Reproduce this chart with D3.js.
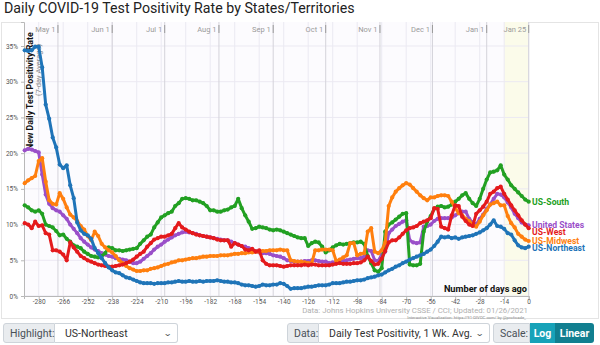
<!DOCTYPE html>
<html>
<head>
<meta charset="utf-8">
<script src="https://cdn.jsdelivr.net/npm/d3@7"></script>
<style>
  body { margin: 0; background: #fff; font-family: Roboto, "Helvetica Neue", Arial, sans-serif; }
  #wrap { position: relative; width: 600px; height: 345px; overflow: hidden; }
  svg { position: absolute; left: 0; top: 0; }
  .grp { position: absolute; top: 323px; height: 20px; display: flex; font-size: 10.5px; }
  .lab { background: #e9ecef; border: 1px solid #ced4da; color: #495057; display: flex; align-items: center;
         padding: 0 6px; box-sizing: border-box; border-radius: 3px 0 0 3px; height: 20px; }
  .sel { background: #fff; border: 1px solid #ced4da; border-left: none; color: #333; display: flex; align-items: center;
         justify-content: space-between; padding: 0 6px 0 10px; box-sizing: border-box; height: 20px; border-radius: 0 3px 3px 0; }
  .chev { font-size: 8px; color: #555; transform: scaleX(1.4); }
  .btn { color: #fff; font-weight: bold; display: flex; align-items: center; justify-content: center; height: 20px; box-sizing: border-box; }
</style>
</head>
<body>
<div id="wrap">
  <svg id="chart" width="600" height="345"></svg>
  <div class="grp" style="left:3px;">
    <div class="lab" style="width:52px;">Highlight:</div>
    <div class="sel" style="width:123px;"><span>US-Northeast</span><span class="chev">&#8964;</span></div>
  </div>
  <div class="grp" style="left:287px;">
    <div class="lab" style="width:32px;">Data:</div>
    <div class="sel" style="width:171px;"><span>Daily Test Positivity, 1 Wk. Avg.</span><span class="chev">&#8964;</span></div>
  </div>
  <div class="grp" style="left:493px;">
    <div class="lab" style="width:37px;">Scale:</div>
    <div class="btn" style="width:25px;background:#17a2b8;">Log</div>
    <div class="btn" style="width:39px;background:#117f90;border-radius:0 3px 3px 0;">Linear</div>
  </div>
</div>
<script>
// Days before the last update, every second day
const days = d3.range(-288, 1, 2);

// Daily test positivity (%), 7-day average, one value per entry in `days`
const usNortheast = [
  34.4,34.3,34.4,34.9,34.9,32.0,26.8,24.8,22.2,20.8,
  18.4,17.9,18.3,15.5,13.7,10.3,9.2,8.7,8.5,8.0,
  6.7,6.0,5.3,4.6,4.0,3.6,3.3,3.2,2.9,2.6,
  2.5,2.3,2.1,1.9,1.8,1.8,1.8,1.7,1.8,1.8,
  1.8,1.9,1.9,2.0,2.1,2.0,2.0,2.1,2.0,2.0,
  2.1,2.0,2.1,2.1,2.1,2.2,2.1,2.0,2.0,1.9,
  1.9,1.8,1.6,1.5,1.5,1.4,1.3,1.4,1.6,1.5,
  1.5,1.6,1.6,1.8,1.7,1.4,1.0,1.1,1.1,1.1,
  1.2,1.3,1.3,1.4,1.5,1.5,1.5,1.6,1.8,1.8,
  1.8,1.9,2.0,2.0,2.1,2.2,2.2,2.3,2.5,2.6,
  2.7,2.9,3.0,3.3,3.6,3.8,4.1,4.3,4.6,4.8,
  5.1,5.3,5.5,5.7,5.9,6.2,6.5,7.0,7.6,8.3,
  8.2,8.3,8.1,8.2,8.0,8.2,8.3,8.4,8.5,8.7,
  8.9,9.2,9.5,10.0,10.6,9.8,9.7,9.4,8.8,8.6,
  7.8,7.1,6.8,6.7,6.9
];
const usSouth = [
  12.7,12.4,12.0,11.8,12.0,11.5,10.0,9.8,9.6,9.1,
  8.5,8.6,8.0,7.6,7.1,6.9,6.7,6.2,5.9,5.6,
  5.5,5.4,5.6,6.0,6.8,6.7,6.4,6.4,6.3,6.4,
  6.5,6.6,6.7,7.3,7.8,8.3,8.6,9.6,10.3,11.0,
  11.3,11.6,11.8,12.6,13.0,13.6,13.7,13.6,13.4,13.4,
  13.2,13.0,12.6,12.0,12.0,11.8,11.8,12.0,12.1,12.4,
  12.6,13.6,12.3,11.3,10.4,9.4,9.5,9.7,9.6,9.5,
  9.3,9.2,9.3,9.2,9.0,8.8,8.6,8.4,8.2,8.1,
  8.1,7.0,7.4,7.6,7.5,6.9,6.1,6.4,6.8,7.1,
  7.3,7.2,7.3,7.4,7.5,7.5,7.6,7.3,5.6,4.6,
  3.6,3.4,3.9,9.0,10.0,10.3,10.7,11.1,11.5,11.6,
  4.4,4.3,4.3,4.5,9.0,10.4,11.2,12.2,12.5,12.6,
  12.4,12.5,12.8,13.2,13.6,14.1,14.4,13.6,13.0,12.6,
  13.6,15.0,16.3,17.3,17.4,17.6,18.3,17.0,16.3,15.5,
  15.0,14.5,14.0,13.5,13.2
];
const usMidwest = [
  15.8,16.2,16.5,16.8,18.9,19.3,16.0,13.4,12.9,12.8,
  14.4,13.6,12.4,11.4,11.0,10.5,9.8,9.3,8.4,7.8,
  9.0,8.4,7.3,6.8,6.4,6.1,5.6,5.0,4.6,4.2,
  3.9,3.7,3.5,3.5,3.6,3.6,3.8,3.9,4.0,4.2,
  4.4,4.5,4.7,4.8,5.0,5.0,5.1,5.2,5.3,5.3,
  5.4,5.5,5.5,5.6,5.6,5.6,5.7,5.7,5.7,5.8,
  5.9,5.9,6.0,6.0,6.1,6.1,6.2,6.2,6.3,6.3,
  6.4,6.4,6.4,6.5,6.4,6.4,5.0,4.9,4.8,4.8,
  4.7,4.6,4.6,6.4,6.4,6.5,6.5,6.5,6.4,4.9,
  5.1,5.4,5.7,7.4,7.4,5.7,5.9,6.0,9.0,9.5,
  6.2,6.0,6.4,7.5,12.6,13.8,14.6,15.1,15.5,15.8,
  15.6,15.1,14.6,14.1,13.7,13.4,13.8,13.8,14.0,14.1,
  14.1,14.0,13.2,12.3,11.6,11.3,10.8,10.5,10.0,9.7,
  10.4,11.3,12.0,12.8,13.0,13.2,12.7,12.7,11.2,10.2,
  9.6,8.7,8.3,7.9,7.7
];
const usWest = [
  10.2,10.0,9.5,10.4,9.8,9.9,8.8,8.6,6.4,6.4,
  6.2,5.8,5.0,7.5,6.8,6.2,5.6,5.3,5.0,4.8,
  4.6,4.4,4.3,4.2,4.1,4.1,4.2,4.3,4.4,4.6,
  4.8,5.1,5.5,5.9,6.2,6.9,7.4,7.9,8.1,8.3,
  8.3,8.5,8.7,9.5,10.2,9.6,9.3,9.0,8.8,8.6,
  8.5,8.4,8.3,8.2,8.1,7.9,7.8,7.8,7.8,6.9,
  7.4,7.2,7.0,6.5,6.4,6.6,6.2,6.4,5.0,4.5,
  4.3,4.3,4.3,4.2,4.1,4.2,4.3,4.3,4.3,4.3,
  4.4,4.3,4.4,4.4,4.3,4.3,4.3,4.3,4.4,4.5,
  4.6,4.5,4.5,4.5,4.6,4.6,4.7,5.0,5.5,4.9,
  4.4,4.5,5.2,6.3,7.5,7.8,7.8,8.2,8.7,9.2,
  9.5,9.6,9.8,10.2,10.4,10.6,10.9,12.3,12.2,9.7,
  9.5,9.3,11.3,12.7,12.6,11.1,10.5,10.0,9.8,11.5,
  12.0,12.5,13.2,14.3,14.6,15.1,15.3,14.3,13.5,12.7,
  12.0,11.3,10.6,10.0,9.5
];
const unitedStates = [
  20.4,20.6,20.5,20.3,20.1,17.0,14.2,12.9,12.3,12.0,
  11.8,11.3,10.8,10.0,9.4,8.8,8.1,7.6,7.2,6.8,
  6.5,6.3,6.0,5.8,5.6,5.5,5.3,5.2,5.1,5.0,
  4.8,4.6,4.6,4.8,5.2,5.6,6.0,6.5,6.9,7.2,
  7.6,7.9,8.2,8.5,8.7,8.9,9.0,8.9,8.8,8.7,
  8.5,8.4,8.3,8.2,8.1,8.0,7.9,7.8,7.8,7.6,
  7.4,7.2,7.0,6.9,6.7,6.5,6.3,6.1,6.0,6.0,
  5.9,5.7,5.6,5.5,5.3,5.0,4.9,4.8,4.8,4.8,
  4.9,4.9,5.0,5.0,4.9,4.8,4.8,4.6,4.7,4.7,
  4.8,4.9,5.0,5.1,5.2,5.3,5.3,5.5,6.4,6.3,
  5.0,4.9,5.8,6.2,8.8,9.3,9.8,10.1,10.4,10.6,
  7.8,7.5,7.4,7.5,9.7,9.8,10.0,10.5,10.8,10.9,
  10.9,10.9,11.0,11.3,11.6,11.8,11.8,10.8,10.3,10.0,
  10.8,11.4,12.2,12.8,13.6,14.3,14.2,13.8,13.1,12.4,
  11.5,10.9,10.3,10.0,9.9
];

// Series in drawing order (highlighted region last, on top)
const seriesNames  = ["United States", "US-South", "US-Midwest", "US-West", "US-Northeast"];
const seriesValues = [unitedStates, usSouth, usMidwest, usWest, usNortheast];
const seriesColors = ["#9a4fc9", "#22a022", "#ff7f0e", "#e41a1c", "#1f74b8"];

// Axis ticks and calendar markers
const xTickValues = d3.range(-280, 1, 14);
const yTickValues = [0, 5, 10, 15, 20, 25, 30, 35];
const monthNames  = ["May 1", "Jun 1", "Jul 1", "Aug 1", "Sep 1", "Oct 1", "Nov 1", "Dec 1", "Jan 1", "Jan 25"];
const monthDays   = [-269, -238, -208, -177, -146, -116, -85, -55, -24, 0];

const svg = d3.select("#chart");
const L = 24, R = 528.7, T = 22, B = 296;
const x = d3.scaleLinear().domain([-288.4, 0]).range([L, R]);
const y = d3.scaleLinear().domain([0, 38.36]).range([B, T]);

// title
svg.append("text").attr("x", 4).attr("y", 13)
  .attr("font-size", 14.2).attr("fill", "#222").text("Daily COVID-19 Test Positivity Rate by States/Territories");

// outer frame and plot background
svg.append("rect").attr("x", 1.5).attr("y", 22.5).attr("width", 597).attr("height", 296)
  .attr("fill", "#fff").attr("stroke", "#e4e4e4");
svg.append("rect").attr("x", L).attr("y", T).attr("width", R - L).attr("height", B - T).attr("fill", "#fcfbfe");
// recent (incomplete) window
svg.append("rect").attr("x", x(-14)).attr("y", T).attr("width", R - x(-14)).attr("height", B - T).attr("fill", "#fbfbea");

// gridlines
svg.append("g").selectAll("line").data(yTickValues).join("line")
  .attr("x1", L).attr("x2", R).attr("y1", d => y(d)).attr("y2", d => y(d))
  .attr("stroke", "#ebe9f2");
svg.append("g").selectAll("line").data(xTickValues).join("line")
  .attr("x1", d => x(d)).attr("x2", d => x(d)).attr("y1", T).attr("y2", B)
  .attr("stroke", "#ebe9f2");
svg.append("g").selectAll("line").data(monthDays).join("line")
  .attr("x1", d => x(d)).attr("x2", d => x(d)).attr("y1", T).attr("y2", B)
  .attr("stroke", "#d4d3da");
svg.append("g").selectAll("line").data(monthDays).join("line")
  .attr("x1", d => x(d)).attr("x2", d => x(d)).attr("y1", T + 3).attr("y2", T + 11)
  .attr("stroke", "#9a9a9a");
svg.append("g").selectAll("text").data(monthDays).join("text")
  .attr("x", d => x(d) - 2.5).attr("y", T + 9.5).attr("text-anchor", "end")
  .attr("font-size", 7.5).attr("fill", "#9a9a9a").text((d, i) => monthNames[i]);

// axes
const yAxis = svg.append("g").attr("transform", `translate(${L},0)`)
  .call(d3.axisLeft(y).tickValues(yTickValues).tickSize(3).tickFormat(d => d + "%"));
const xAxis = svg.append("g").attr("transform", `translate(0,${B})`)
  .call(d3.axisBottom(x).tickValues(xTickValues).tickSize(3).tickPadding(0.3).tickFormat(d => String(d)));
[yAxis, xAxis].forEach(g => {
  g.select(".domain").attr("stroke", "#b8b8b8");
  g.selectAll(".tick line").attr("stroke", "#b8b8b8");
  g.selectAll(".tick text").attr("font-size", 6.5).attr("fill", "#555").attr("font-family", "Roboto, sans-serif");
});

// axis titles
svg.append("text").attr("transform", `translate(33,150) rotate(-90)`)
  .attr("font-size", 8.8).attr("font-weight", "bold").attr("fill", "#111")
  .text("New Daily Test Positivity Rate");
svg.append("text").attr("transform", `translate(41,96) rotate(-90)`)
  .attr("font-size", 7.5).attr("fill", "#888").text("(7-day Average)");
svg.append("text").attr("x", 527).attr("y", 292).attr("text-anchor", "end")
  .attr("font-size", 9.2).attr("font-weight", "bold").attr("fill", "#111").text("Number of days ago");

// source lines
svg.append("text").attr("x", 528).attr("y", 313.3).attr("text-anchor", "end")
  .attr("font-size", 7.8).attr("fill", "#b0b0b0")
  .text("Data: Johns Hopkins University CSSE / CCI; Updated: 01/26/2021");
svg.append("text").attr("x", 526).attr("y", 318.6).attr("text-anchor", "end")
  .attr("font-size", 4.2).attr("fill", "#888")
  .text("Interactive Visualization: https://91-DIVOC.com/ by @profwade_");

// series lines with a dot on every reading
const line = d3.line().x((d, i) => x(days[i])).y(d => y(d));
seriesValues.forEach((vals, k) => {
  const g = svg.append("g");
  g.append("path").datum(vals).attr("d", line)
    .attr("fill", "none").attr("stroke", seriesColors[k]).attr("stroke-width", 3)
    .attr("stroke-linejoin", "round");
  g.selectAll("circle").data(vals).join("circle")
    .attr("cx", (d, i) => x(days[i])).attr("cy", d => y(d)).attr("r", 2.1)
    .attr("fill", seriesColors[k]);
});

// end-of-line labels, nudged apart where they crowd
const ends = seriesNames.map((n, k) => ({ name: n, color: seriesColors[k], ty: y(seriesValues[k][seriesValues[k].length - 1]) }))
  .sort((a, b) => a.ty - b.ty);
for (let i = 1; i < ends.length; i++) {
  if (ends[i].ty - ends[i - 1].ty < 7.2) ends[i].ty = ends[i - 1].ty + 7.2;
}
svg.append("g").selectAll("text").data(ends).join("text")
  .attr("x", 532).attr("y", d => d.ty).attr("dy", "0.35em")
  .attr("font-size", 8.6).attr("font-weight", "bold").attr("fill", d => d.color)
  .text(d => d.name);
</script>
</body>
</html>
